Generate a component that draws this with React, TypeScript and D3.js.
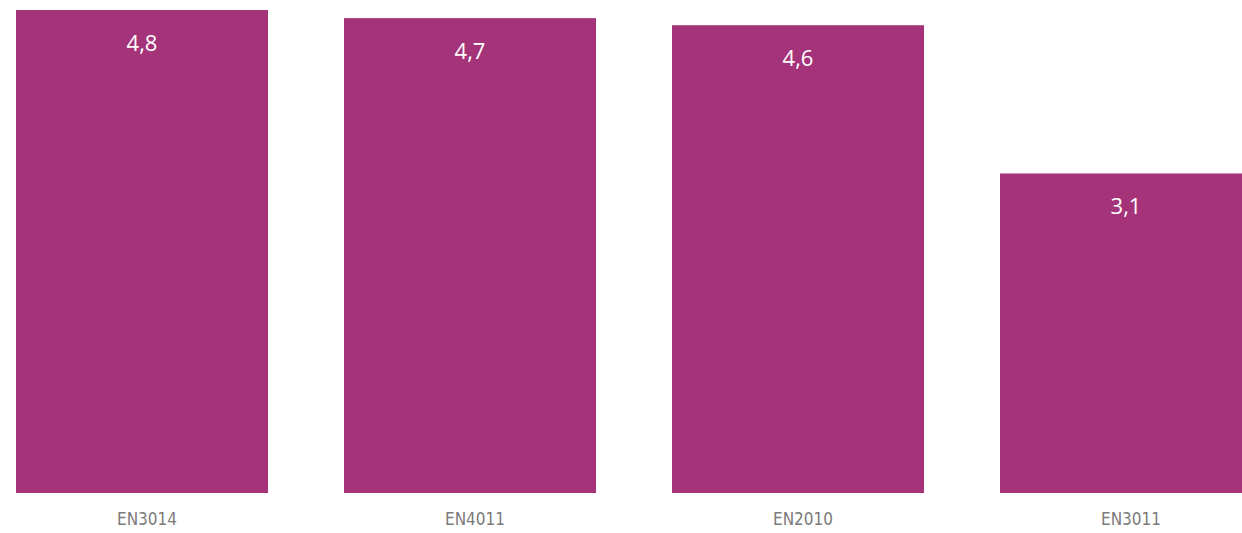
import React from "react";
import * as d3 from "d3";

const categories = ["EN3014", "EN4011", "EN2010", "EN3011"];
const values = [4.76, 4.68, 4.61, 3.149];

const W = 1242;
const H = 533;
const BAR_COLOR = "#a5337a";

export default function App() {
  const x = d3
    .scaleBand<string>()
    .domain(categories)
    .range([16, 1252])
    .paddingInner(76 / 328)
    .paddingOuter(0);
  const y = d3.scaleLinear().domain([0, d3.max(values) as number]).range([493, 10]);
  const fmt = (v: number) => d3.format(".1f")(v).replace(".", ",");

  return (
    <svg
      width={W}
      height={H}
      style={{ position: "absolute", left: 0, top: 0, background: "#fff", overflow: "hidden" }}
    >
      {categories.map((c, i) => {
        const x0 = x(c) as number;
        const bw = x.bandwidth();
        return (
          <g key={c}>
            <rect x={x0} y={y(values[i])} width={bw} height={y(0) - y(values[i])} fill={BAR_COLOR} />
            <text
              x={x0 + bw / 2}
              y={y(values[i]) + 41}
              textAnchor="middle"
              fill="#ffffff"
              fontFamily="'Segoe UI', 'Open Sans', 'Noto Sans', sans-serif"
              fontSize={22}
            >
              {fmt(values[i])}
            </text>
            <text
              x={x0 + bw / 2 + 5}
              y={525}
              textAnchor="middle"
              fill="#7a7a7a"
              fontFamily="'Liberation Sans Narrow', 'DejaVu Sans Condensed', Roboto, sans-serif"
              fontSize={17}
            >
              {c}
            </text>
          </g>
        );
      })}
    </svg>
  );
}
